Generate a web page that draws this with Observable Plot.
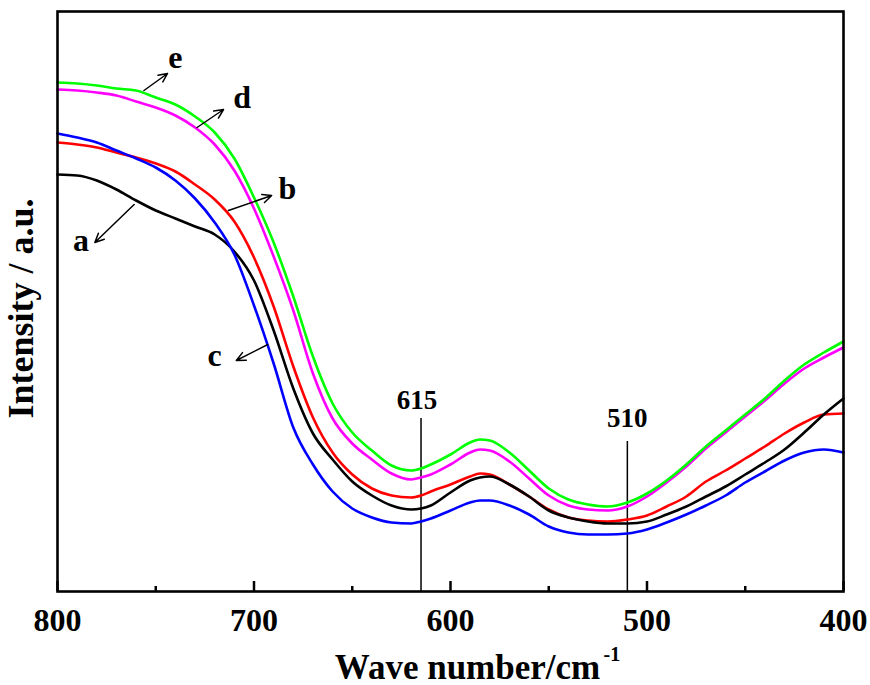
<!DOCTYPE html>
<html>
<head>
<meta charset="utf-8">
<script src="https://cdn.jsdelivr.net/npm/d3@7"></script>
<script src="https://cdn.jsdelivr.net/npm/@observablehq/plot@0.6"></script>
<style>
  html, body { margin: 0; padding: 0; background: #fff; }
</style>
</head>
<body>
<div id="chart"></div>
<script>
// Wave numbers (cm^-1)
const wavenumber = [800,790,780,770,760,750,740,730,720,710,700,690,680,670,660,650,640,630,620,615,610,600,590,585,580,570,560,550,540,530,520,510,500,490,480,470,460,450,440,430,420,410,400];

// Intensities (a.u.)
const seriesA = [417,416,411,402,391,381,373,365,357,340,311,261,203,158,132,110,96,86,82,83,86,99,111,114,115,107,95,81,74,70,68,68,70,77,85,95,105,117,129,142,159,177,193];
const seriesB = [449,447,444,439,434,428,420,407,392,370,334,285,225,174,139,117,103,96,94,96,100,107,115,118,117,107,95,82,74,71,70,72,76,85,95,110,121,133,145,158,169,177,178];
const seriesC = [458,454,449,441,433,424,411,393,369,337,286,228,164,127,100,83,74,69,68,70,73,81,89,91,91,86,77,65,59,57,57,58,62,69,77,86,96,109,120,131,139,142,139];
const seriesD = [502,501,499,496,490,484,476,464,447,421,383,335,281,218,173,148,132,118,112,114,117,127,139,142,141,130,113,96,86,82,81,85,95,109,125,143,159,175,191,208,223,234,244];
const seriesE = [509,508,506,503,501,494,487,475,459,433,394,349,295,235,188,159,141,126,121,123,127,137,149,152,151,139,121,103,92,87,85,89,98,111,127,145,161,177,193,211,227,239,250];

const seriesNames = ["b", "a", "c", "d", "e"];
const seriesColors = ["#ff0000", "#000000", "#0000ff", "#ff00ff", "#00ff00"];
const seriesValues = [seriesB, seriesA, seriesC, seriesD, seriesE];

// Curve labels and their arrows (wave number, intensity)
const labelText = ["a", "b", "c", "d", "e"];
const labelX = [788, 683, 720, 706, 740];
const labelY = [351, 403, 236, 494, 534];
const arrowX1 = [761, 713, 693, 729, 756];
const arrowY1 = [387, 381, 247, 464, 501];
const arrowX2 = [781, 691, 709, 715.5, 744];
const arrowY2 = [349, 396, 231, 482, 518];

// Marked bands
const bandPos = [615, 510];
const bandTop = [173, 150];
const bandLabel = ["615", "510"];
const bandLabelX = [617, 510];
const bandLabelY = [183, 165];

// Axis ticks
const majorTicks = [800, 700, 600, 500, 400];
const minorTicks = [750, 650, 550, 450];

const lineData = seriesValues.flatMap((vals, k) =>
  vals.map((v, i) => ({w: wavenumber[i], v, s: seriesNames[k]})));
const labels = labelText.map((t, i) => ({t, x: labelX[i], y: labelY[i]}));
const arrows = labelText.map((t, i) => ({x1: arrowX1[i], y1: arrowY1[i], x2: arrowX2[i], y2: arrowY2[i]}));
const bands = bandPos.map((p, i) => ({p, top: bandTop[i], label: bandLabel[i], lx: bandLabelX[i], ly: bandLabelY[i]}));

const font = "'Liberation Serif', 'Times New Roman', serif";

const chart = Plot.plot({
  width: 870,
  height: 685,
  marginLeft: 57,
  marginRight: 27,
  marginTop: 11,
  marginBottom: 94,
  style: {fontFamily: font, fontWeight: "bold", background: "#fff", color: "#000", overflow: "visible"},
  x: {domain: [800, 400], axis: null, label: null},
  y: {domain: [0, 580], axis: null, label: null},
  color: {domain: seriesNames, range: seriesColors},
  marks: [
    Plot.ruleX(bands, {x: "p", y1: 0, y2: "top", stroke: "#000", strokeWidth: 1.5}),
    Plot.text(bands, {x: "lx", y: "ly", text: "label", fontSize: 27, fontWeight: "bold", lineAnchor: "bottom", fill: "#000"}),
    Plot.line(lineData, {x: "w", y: "v", z: "s", stroke: "s", strokeWidth: 2.6, curve: "monotone-x"}),
    Plot.arrow(arrows, {x1: "x1", y1: "y1", x2: "x2", y2: "y2", stroke: "#000", strokeWidth: 1.5, headLength: 10, headAngle: 50}),
    Plot.text(labels, {x: "x", y: "y", text: "t", fontSize: 32, fontWeight: "bold", fill: "#000"}),
    Plot.ruleX(majorTicks, {x: d => d, insetTop: 570, stroke: "#000", strokeWidth: 2.5}),
    Plot.ruleX(minorTicks, {x: d => d, insetTop: 575, stroke: "#000", strokeWidth: 2.5}),
    Plot.axisX({ticks: majorTicks, tickSize: 0, tickPadding: 17, fontSize: 32, fontWeight: "bold", tickFormat: d => String(d), label: null}),
    Plot.frame({stroke: "#000", strokeWidth: 2.6}),
    Plot.text(["Wave number/cm"], {frameAnchor: "bottom", dx: 17, dy: 87, lineAnchor: "bottom", fontSize: 35, fontWeight: "bold", fill: "#000"}),
    Plot.text(["-1"], {frameAnchor: "bottom", dx: 153, dy: 69, textAnchor: "start", lineAnchor: "bottom", fontSize: 20, fontWeight: "bold", fill: "#000"}),
    Plot.text(["Intensity / a.u."], {frameAnchor: "left", dx: -25, dy: 7, rotate: -90, textAnchor: "middle", lineAnchor: "bottom", fontSize: 36, fontWeight: "bold", fill: "#000"})
  ]
});
document.getElementById("chart").appendChild(chart);
</script>
</body>
</html>
